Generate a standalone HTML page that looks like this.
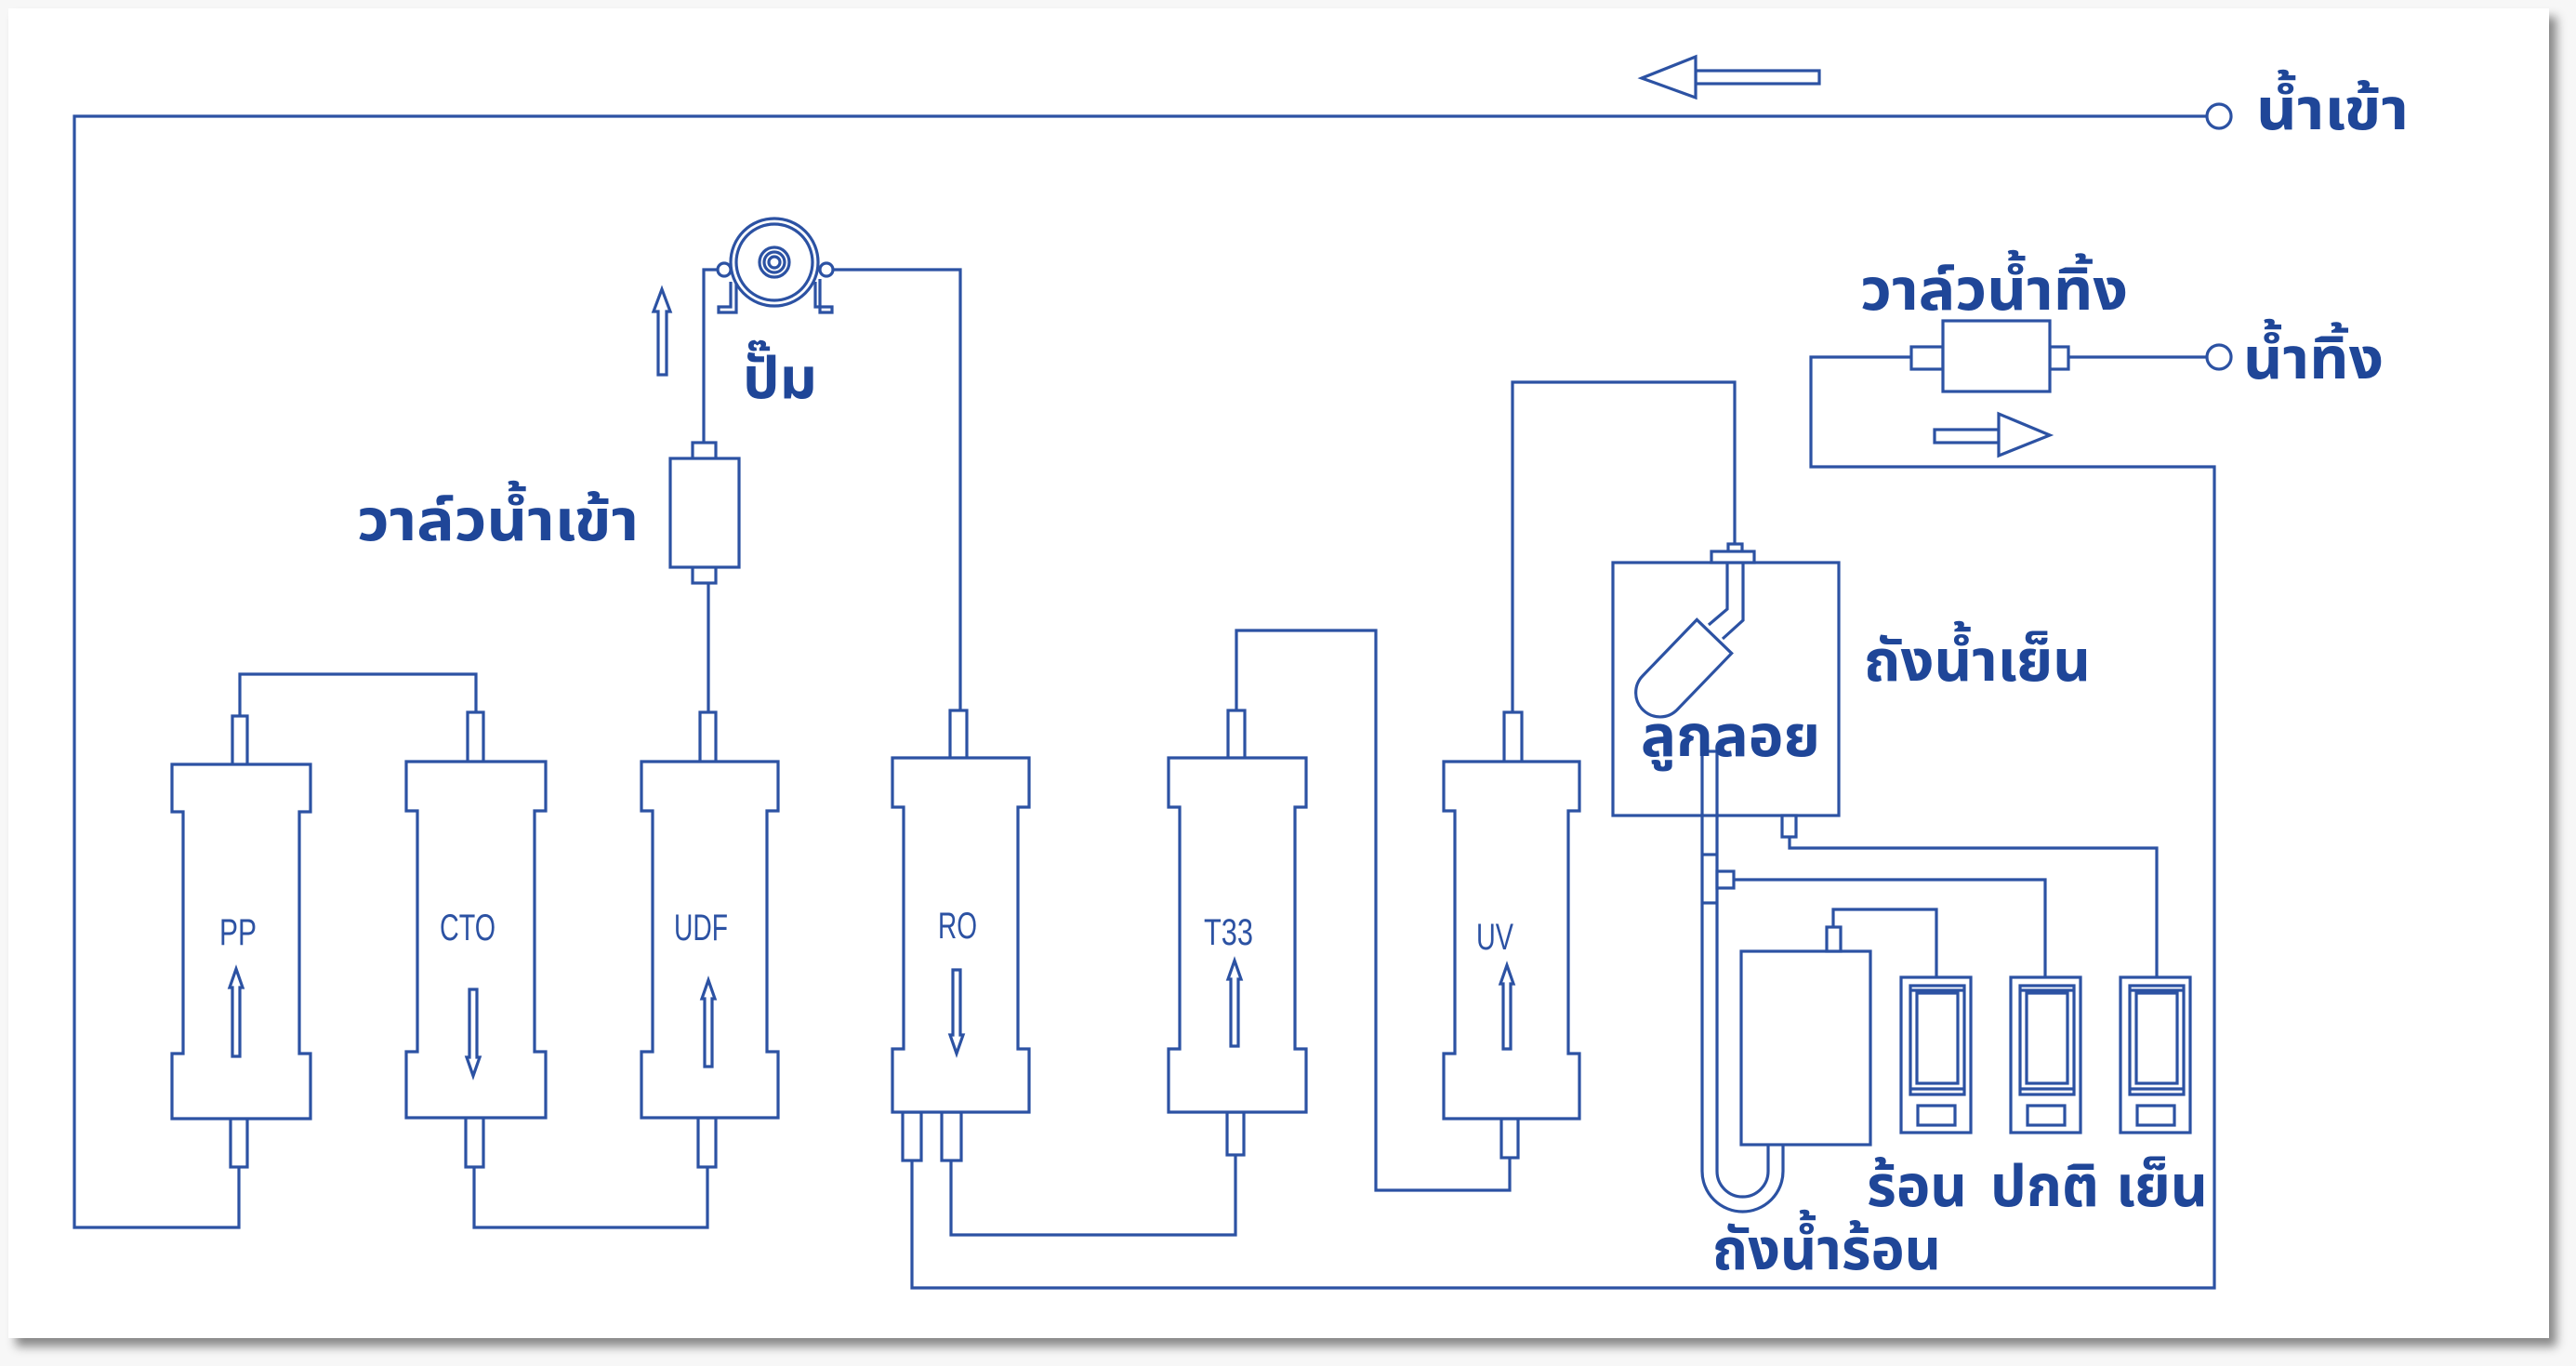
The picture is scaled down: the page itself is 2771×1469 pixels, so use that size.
<!DOCTYPE html>
<html>
<head>
<meta charset="utf-8">
<style>
html,body{margin:0;padding:0;}
body{width:2771px;height:1469px;background:#f7f7f7;position:relative;overflow:hidden;}
.card{position:absolute;left:9px;top:9px;width:2733px;height:1430px;background:#fff;box-shadow:8px 9px 10px rgba(0,0,0,0.45);}
svg{position:absolute;left:0;top:0;}
.ln{fill:none;stroke:#2c52a3;stroke-width:3.2;stroke-linejoin:miter;}
.sh{fill:#fff;stroke:#2c52a3;stroke-width:3.2;}
.th{font-family:"Liberation Sans","DejaVu Sans","Noto Sans Thai","Noto Sans CJK SC",sans-serif;font-weight:bold;fill:#1f4698;font-size:62px;}
.lb{font-family:"Liberation Sans Narrow","Liberation Sans",sans-serif;fill:#2c52a3;font-size:40px;}
</style>
</head>
<body>
<div class="card"></div>
<svg width="2771" height="1469" viewBox="0 0 2771 1469" xmlns="http://www.w3.org/2000/svg">
<!-- main inlet line -->
<polyline class="ln" points="2374,125 80,125 80,1320 257,1320 257,1255"/>
<circle class="sh" cx="2387" cy="125" r="13"/>
<!-- top arrow (left) -->
<rect class="sh" x="1824" y="76" width="133" height="14"/>
<polygon class="sh" points="1766,84 1824,61 1824,105"/>
<!-- PP to CTO -->
<polyline class="ln" points="258,770 258,725 512,725 512,766"/>
<!-- CTO to UDF -->
<polyline class="ln" points="510,1255 510,1320 761,1320 761,1255"/>
<!-- UDF to valve -->
<polyline class="ln" points="762,766 762,627"/>
<!-- valve to pump -->
<polyline class="ln" points="757,476 757,290 772,290"/>
<!-- pump to RO -->
<polyline class="ln" points="896,290 1033,290 1033,764"/>
<!-- RO to T33 -->
<polyline class="ln" points="1023,1248 1023,1328 1329,1328 1329,1242"/>
<!-- T33 to UV -->
<polyline class="ln" points="1330,764 1330,678 1480,678 1480,1280 1624,1280 1624,1245"/>
<!-- UV to cold tank -->
<polyline class="ln" points="1627,766 1627,411 1866,411 1866,585"/>
<!-- RO drain loop -->
<polyline class="ln" points="981,1248 981,1385 2382,1385 2382,502 1948,502 1948,384 2056,384"/>
<line class="ln" x1="2225" y1="384" x2="2374" y2="384"/>
<circle class="sh" cx="2387" cy="384" r="13"/>
<!-- drain valve -->
<rect class="sh" x="2056" y="373" width="34" height="24"/>
<rect class="sh" x="2205" y="373" width="20" height="24"/>
<rect class="sh" x="2090" y="345" width="115" height="76"/>
<!-- right arrow -->
<rect class="sh" x="2081" y="462" width="69" height="14"/>
<polygon class="sh" points="2150,445 2150,490 2205,468"/>

<!-- inlet valve -->
<rect class="sh" x="745" y="476" width="25" height="18"/>
<rect class="sh" x="745" y="609" width="25" height="18"/>
<rect class="sh" x="721" y="493" width="74" height="117"/>

<!-- pump -->
<path class="ln" d="M786,303 V330 H773 V336 H792 V300"/>
<path class="ln" d="M882,300 V336 H895 V330 H877 V303"/>
<circle class="sh" cx="833" cy="282" r="47"/>
<circle class="ln" cx="833" cy="282" r="41"/>
<circle class="ln" cx="833" cy="282" r="16"/>
<circle class="ln" cx="833" cy="282" r="11"/>
<circle class="ln" cx="833" cy="282" r="6"/>
<circle class="sh" cx="779" cy="290" r="7"/>
<circle class="sh" cx="889" cy="290" r="7"/>
<!-- pump up arrow -->
<path class="sh" d="M712,311 L721,335 H717 V403 H708 V335 H703 Z"/>

<!-- filters -->
<g>
<rect class="sh" x="250" y="770" width="16" height="53"/>
<rect class="sh" x="248" y="1203" width="18" height="52"/>
<path class="sh" d="M185,822 H334 V873 H322 V1133 H334 V1203 H185 V1133 H197 V873 H185 Z"/>
<path class="sh" d="M254,1042 L261,1062 H258 V1136 H250 V1062 H247 Z"/>
<text class="lb" x="236" y="1016" textLength="40" lengthAdjust="spacingAndGlyphs">PP</text>

<rect class="sh" x="503" y="766" width="17" height="54"/>
<rect class="sh" x="501" y="1202" width="19" height="53"/>
<path class="sh" d="M437,819 H587 V872 H575 V1131 H587 V1202 H437 V1131 H449 V872 H437 Z"/>
<path class="sh" d="M509,1157 L516,1137 H513 V1064 H505 V1137 H502 Z"/>
<text class="lb" x="473" y="1011" textLength="60" lengthAdjust="spacingAndGlyphs">CTO</text>

<rect class="sh" x="753" y="766" width="17" height="54"/>
<rect class="sh" x="751" y="1202" width="19" height="53"/>
<path class="sh" d="M690,819 H837 V872 H825 V1131 H837 V1202 H690 V1131 H702 V872 H690 Z"/>
<path class="sh" d="M762,1054 L769,1074 H766 V1147 H758 V1074 H755 Z"/>
<text class="lb" x="725" y="1011" textLength="58" lengthAdjust="spacingAndGlyphs">UDF</text>

<rect class="sh" x="1022" y="764" width="18" height="52"/>
<rect class="sh" x="971" y="1196" width="20" height="52"/>
<rect class="sh" x="1013" y="1196" width="21" height="52"/>
<path class="sh" d="M960,815 H1107 V868 H1095 V1128 H1107 V1196 H960 V1128 H972 V868 H960 Z"/>
<path class="sh" d="M1029,1133 L1036,1113 H1033 V1043 H1025 V1113 H1022 Z"/>
<text class="lb" x="1009" y="1009" textLength="42" lengthAdjust="spacingAndGlyphs">RO</text>

<rect class="sh" x="1321" y="764" width="18" height="52"/>
<rect class="sh" x="1320" y="1196" width="18" height="46"/>
<path class="sh" d="M1257,815 H1405 V868 H1393 V1128 H1405 V1196 H1257 V1128 H1269 V868 H1257 Z"/>
<path class="sh" d="M1328,1033 L1335,1053 H1332 V1125 H1324 V1053 H1321 Z"/>
<text class="lb" x="1295" y="1016" textLength="53" lengthAdjust="spacingAndGlyphs">T33</text>

<rect class="sh" x="1618" y="766" width="19" height="54"/>
<rect class="sh" x="1615" y="1203" width="18" height="42"/>
<path class="sh" d="M1553,819 H1699 V872 H1687 V1133 H1699 V1203 H1553 V1133 H1565 V872 H1553 Z"/>
<path class="sh" d="M1621,1038 L1628,1058 H1625 V1128 H1617 V1058 H1614 Z"/>
<text class="lb" x="1588" y="1021" textLength="40" lengthAdjust="spacingAndGlyphs">UV</text>
</g>

<!-- cold tank -->
<rect class="sh" x="1735" y="605" width="243" height="272"/>
<rect class="sh" x="1859" y="585" width="15" height="9"/>
<rect class="sh" x="1841" y="593" width="46" height="12"/>
<polyline class="ln" points="1858,605 1858,655 1838,672"/>
<polyline class="ln" points="1875,605 1875,667 1853,687"/>
<g transform="translate(1844,684.5) rotate(134)">
<path class="sh" d="M0,-26 L84,-26 A26,26 0 0 1 84,26 L0,26 Z"/>
</g>
<!-- cold outlet -->
<rect class="sh" x="1917" y="877" width="15" height="23"/>
<polyline class="ln" points="1925,900 1925,912 2320,912 2320,1051"/>
<!-- U pipe -->
<path class="ln" d="M1831,808 V1259.5 A43.5,43.5 0 0 0 1918,1259.5 V1231"/>
<path class="ln" d="M1847,808 V1259.5 A27.5,27.5 0 0 0 1902,1259.5 V1231"/>
<line class="ln" x1="1831" y1="808" x2="1847" y2="808"/>
<line class="ln" x1="1831" y1="919" x2="1847" y2="919"/>
<line class="ln" x1="1831" y1="971" x2="1847" y2="971"/>
<rect class="sh" x="1847" y="937" width="18" height="18"/>
<polyline class="ln" points="1865,946 2200,946 2200,1051"/>
<!-- hot tank -->
<rect class="sh" x="1873" y="1023" width="139" height="208"/>
<rect class="sh" x="1965" y="997" width="15" height="26"/>
<polyline class="ln" points="1972,997 1972,978 2083,978 2083,1051"/>

<!-- dispensers -->
<g>
<rect class="sh" x="2045" y="1051" width="75" height="167"/>
<rect class="ln" x="2055" y="1060" width="58" height="117"/>
<rect class="ln" x="2062" y="1068" width="44" height="97"/>
<line class="ln" x1="2055" y1="1065" x2="2113" y2="1065"/>
<line class="ln" x1="2055" y1="1171" x2="2113" y2="1171"/>
<rect class="ln" x="2063" y="1189" width="40" height="21"/>
</g>
<g transform="translate(118,0)">
<rect class="sh" x="2045" y="1051" width="75" height="167"/>
<rect class="ln" x="2055" y="1060" width="58" height="117"/>
<rect class="ln" x="2062" y="1068" width="44" height="97"/>
<line class="ln" x1="2055" y1="1065" x2="2113" y2="1065"/>
<line class="ln" x1="2055" y1="1171" x2="2113" y2="1171"/>
<rect class="ln" x="2063" y="1189" width="40" height="21"/>
</g>
<g transform="translate(236,0)">
<rect class="sh" x="2045" y="1051" width="75" height="167"/>
<rect class="ln" x="2055" y="1060" width="58" height="117"/>
<rect class="ln" x="2062" y="1068" width="44" height="97"/>
<line class="ln" x1="2055" y1="1065" x2="2113" y2="1065"/>
<line class="ln" x1="2055" y1="1171" x2="2113" y2="1171"/>
<rect class="ln" x="2063" y="1189" width="40" height="21"/>
</g>

<!-- Thai labels -->
<text class="th" x="2427" y="139" textLength="164" lengthAdjust="spacingAndGlyphs">น้ำเข้า</text>
<text class="th" x="799" y="428" textLength="80" lengthAdjust="spacingAndGlyphs">ปั๊ม</text>
<text class="th" x="384" y="581" textLength="303" lengthAdjust="spacingAndGlyphs">วาล์วน้ำเข้า</text>
<text class="th" x="2001" y="333" textLength="288" lengthAdjust="spacingAndGlyphs">วาล์วน้ำทิ้ง</text>
<text class="th" x="2413" y="407" textLength="151" lengthAdjust="spacingAndGlyphs">น้ำทิ้ง</text>
<text class="th" x="2005" y="732" textLength="244" lengthAdjust="spacingAndGlyphs">ถังน้ำเย็น</text>
<text class="th" x="1765" y="813" textLength="193" lengthAdjust="spacingAndGlyphs">ลูกลอย</text>
<text class="th" x="2008" y="1297" textLength="108" lengthAdjust="spacingAndGlyphs">ร้อน</text>
<text class="th" x="2141" y="1297" textLength="117" lengthAdjust="spacingAndGlyphs">ปกติ</text>
<text class="th" x="2276" y="1297" textLength="99" lengthAdjust="spacingAndGlyphs">เย็น</text>
<text class="th" x="1842" y="1365" textLength="246" lengthAdjust="spacingAndGlyphs">ถังน้ำร้อน</text>
</svg>
</body>
</html>
